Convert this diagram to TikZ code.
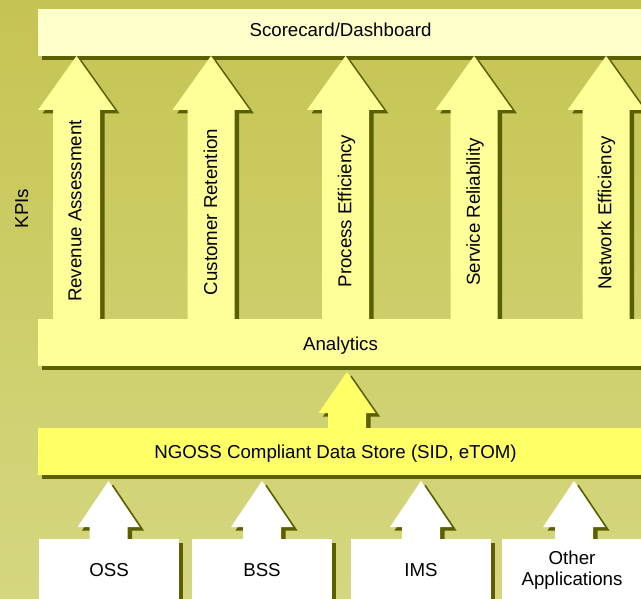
\documentclass[tikz,border=0pt]{standalone}
\usepackage{fontspec}
\setmainfont{Liberation Sans}
\usetikzlibrary{shadows}
\definecolor{bgtop}{RGB}{197,196,82}
\definecolor{bgbot}{RGB}{213,215,128}
\definecolor{shadowc}{RGB}{90,96,0}
\definecolor{cream}{RGB}{255,255,204}
\definecolor{paley}{RGB}{255,255,153}
\definecolor{brighty}{RGB}{255,255,102}
% #1 style, #2 centre x, #3 tip y, #4 head base y, #5 bottom y, #6 head half width, #7 shaft half width
\newcommand{\blockarrow}[7]{%
  \fill[shadowc,shift={(4.5,3.5)}] (#2,#3) -- ({#2+#6},#4) -- ({#2+#7},#4) -- ({#2+#7},#5) -- ({#2-#7},#5) -- ({#2-#7},#4) -- ({#2-#6},#4) -- cycle;
  \fill[#1] (#2,#3) -- ({#2+#6},#4) -- ({#2+#7},#4) -- ({#2+#7},#5) -- ({#2-#7},#5) -- ({#2-#7},#4) -- ({#2-#6},#4) -- cycle;}
\begin{document}
\begin{tikzpicture}[x=1pt,y=-1pt,
  txt/.style={font=\fontsize{18.7}{21}\selectfont, text=black},
  box/.style={txt, rectangle, inner sep=0pt, minimum height=47pt,
    drop shadow={fill=shadowc, opacity=1, shadow xshift=4pt, shadow yshift=-4pt}},
  band/.style={box, minimum width=605pt},
  srcbox/.style={box, fill=white, minimum width=140pt, minimum height=62pt, align=center},
  lbl/.style={txt, rotate=90, inner sep=0pt}]
\useasboundingbox (0,0) rectangle (641,599);
\clip (0,0) rectangle (641,599);
\shade[top color=bgtop, bottom color=bgbot] (0,0) rectangle (641,599);

\node[lbl] (kpis) at (21.7,208.5) {KPIs};

\node[band, fill=cream, minimum height=46.7pt, text height=13.4pt, text depth=5.4pt] (score) at (340.5,32.4) {Scorecard/Dashboard};

\blockarrow{paley}{76.5}{56}{110}{322}{38.5}{23.5}
\blockarrow{paley}{211}{56}{110}{322}{38.5}{23.5}
\blockarrow{paley}{345.5}{56}{110}{322}{38.5}{23.5}
\blockarrow{paley}{474}{56}{110}{322}{38.5}{23.5}
\blockarrow{paley}{606}{56}{110}{322}{38.5}{23.5}

\node[lbl] (k1) at (75,211) {Revenue Assessment};
\node[lbl] (k2) at (210.5,212) {Customer Retention};
\node[lbl] (k3) at (346.5,211) {Process Efficiency};
\node[lbl] (k4) at (475,212) {Service Reliability};
\node[lbl] (k5) at (606.5,213) {Network Efficiency};

\node[band, fill=paley, text height=16.8pt, text depth=0pt] (ana) at (340.5,342.5) {Analytics};

\blockarrow{brighty}{347}{372}{413}{430}{28.5}{19}

\node[band, fill=brighty, text height=13.4pt, text depth=0pt] (store) at (340.5,451.5) {\hspace*{-10pt}NGOSS Compliant Data Store (SID, eTOM)};

\blockarrow{white}{108.5}{481}{527}{542}{31}{19}
\blockarrow{white}{262}{481}{527}{542}{31}{19}
\blockarrow{white}{421}{481}{527}{542}{31}{19}
\blockarrow{white}{574}{481}{527}{542}{31}{19}

\node[srcbox] (oss) at (109,570) {OSS};
\node[srcbox] (bss) at (262,570) {BSS};
\node[srcbox] (ims) at (421,570) {IMS};
\node[srcbox] (other) at (572,570) {Other\\Applications};
\end{tikzpicture}
\end{document}
